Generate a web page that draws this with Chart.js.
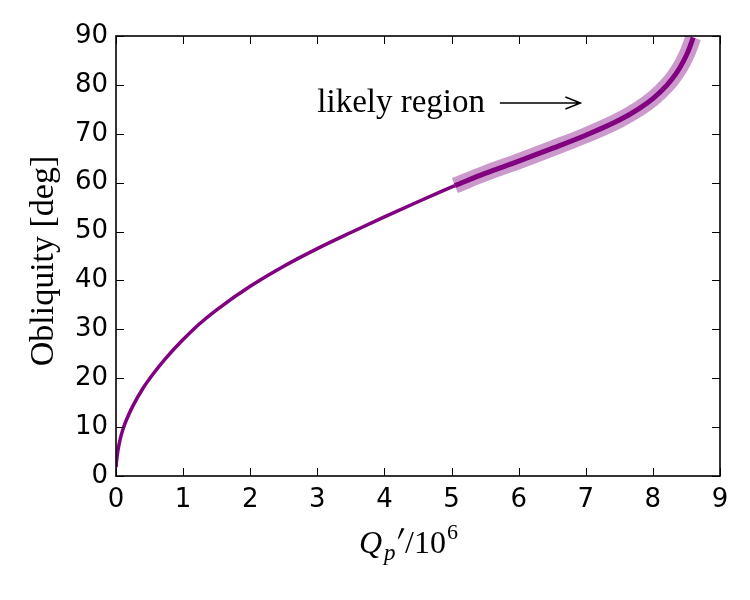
<!DOCTYPE html>
<html>
<head>
<meta charset="utf-8">
<script src="https://cdn.jsdelivr.net/npm/chart.js@4.4.0/dist/chart.umd.min.js"></script>
<style>
  html, body { margin: 0; padding: 0; background: #fff; }
  #wrap { width: 750px; height: 600px; }
</style>
</head>
<body>
<div id="wrap"><canvas id="obliquityChart"></canvas></div>
<script>
// Obliquity vs Q'_p
const curveQ = [0, 0.01, 0.03, 0.06, 0.1, 0.15, 0.25, 0.4, 0.55, 0.75, 1.0, 1.25, 1.5, 2.0, 2.5, 3.0, 3.5, 4.0, 4.5, 5.05];
const curveObl = [1.8, 3.3, 5.3, 7.4, 9.4, 11.3, 14.3, 17.9, 20.8, 24.2, 27.9, 31.2, 34.0, 38.8, 42.9, 46.5, 49.8, 53.0, 56.1, 59.4];

// the highlighted "likely region"
const likelyQ = [5.05, 5.5, 6.0, 6.5, 7.0, 7.5, 7.8, 8.0, 8.2, 8.35, 8.45, 8.52, 8.57, 8.6];
const likelyObl = [59.4, 61.9, 64.4, 67.0, 69.7, 72.8, 75.2, 77.2, 79.8, 82.4, 84.7, 86.7, 88.5, 89.7];

const xTicks = [0, 1, 2, 3, 4, 5, 6, 7, 8, 9];
const yTicks = [0, 10, 20, 30, 40, 50, 60, 70, 80, 90];

// annotation (data coords)
const noteText = "likely region";
const notePos = [3.0, 74.5];
const arrowFrom = [5.72, 76.3];
const arrowTo = [6.92, 76.3];

const PURPLE = "#800080";
const serif = "'Liberation Serif', 'DejaVu Serif', serif";

function toPoints(xs, ys) {
  return xs.map((v, i) => ({ x: v, y: ys[i] }));
}

// Frame, inward ticks, arrow and axis titles
const frameAndNotes = {
  id: "frameAndNotes",
  afterDraw(chart) {
    const { ctx, chartArea: a } = chart;
    const x = chart.scales.x;
    const y = chart.scales.y;
    ctx.save();

    // inward ticks on all four sides
    ctx.strokeStyle = "#000";
    ctx.lineWidth = 1;
    ctx.beginPath();
    xTicks.forEach((v) => {
      const px = Math.round(x.getPixelForValue(v)) + 0.5;
      ctx.moveTo(px, a.bottom);
      ctx.lineTo(px, a.bottom - 8);
      ctx.moveTo(px, a.top);
      ctx.lineTo(px, a.top + 8);
    });
    yTicks.forEach((v) => {
      const py = Math.round(y.getPixelForValue(v)) + 0.5;
      ctx.moveTo(a.left, py);
      ctx.lineTo(a.left + 8, py);
      ctx.moveTo(a.right, py);
      ctx.lineTo(a.right - 8, py);
    });
    ctx.stroke();

    ctx.lineWidth = 1.6;
    ctx.strokeRect(a.left, a.top, a.right - a.left, a.bottom - a.top);

    // annotation text + arrow
    ctx.fillStyle = "#000";
    ctx.font = "33px " + serif;
    ctx.textAlign = "left";
    ctx.textBaseline = "alphabetic";
    ctx.fillText(noteText, x.getPixelForValue(notePos[0]), y.getPixelForValue(notePos[1]));

    const ax0 = x.getPixelForValue(arrowFrom[0]);
    const ax1 = x.getPixelForValue(arrowTo[0]);
    const ay = y.getPixelForValue(arrowTo[1]);
    ctx.lineWidth = 1.5;
    ctx.beginPath();
    ctx.moveTo(ax0, ay);
    ctx.lineTo(ax1, ay);
    ctx.moveTo(ax1 - 15, ay - 6);
    ctx.lineTo(ax1, ay);
    ctx.lineTo(ax1 - 15, ay + 6);
    ctx.stroke();

    // x title: Q'_p / 10^6
    const base = 553;
    ctx.font = "italic 32px " + serif;
    ctx.fillText("Q", 359, base);
    ctx.font = "italic 23px " + serif;
    ctx.fillText("p", 384, base + 7);
    // prime as a thin slanted wedge
    ctx.beginPath();
    ctx.moveTo(401.5, 528);
    ctx.lineTo(404.5, 528.5);
    ctx.lineTo(398.8, 539);
    ctx.lineTo(397.8, 538.6);
    ctx.closePath();
    ctx.fill();
    ctx.font = "32px " + serif;
    ctx.fillText("/10", 405, base);
    const w = ctx.measureText("/10").width;
    ctx.font = "22px " + serif;
    ctx.fillText("6", 405 + w + 1, base - 14);

    // y title
    ctx.translate(53, 261);
    ctx.rotate(-Math.PI / 2);
    ctx.font = "34px " + serif;
    ctx.textAlign = "center";
    ctx.fillText("Obliquity [deg]", 0, 0);

    ctx.restore();
  },
};

const ctx = document.getElementById("obliquityChart").getContext("2d");
new Chart(ctx, {
  type: "scatter",
  data: {
    datasets: [
      {
        data: toPoints(likelyQ, likelyObl),
        showLine: true,
        borderColor: PURPLE,
        borderWidth: 5,
        pointRadius: 0,
        cubicInterpolationMode: "monotone",
      },
      {
        data: toPoints(likelyQ, likelyObl),
        showLine: true,
        borderColor: "rgba(128, 0, 128, 0.4)",
        borderWidth: 16,
        borderCapStyle: "butt",
        pointRadius: 0,
        cubicInterpolationMode: "monotone",
      },
      {
        data: toPoints(curveQ, curveObl),
        showLine: true,
        borderColor: PURPLE,
        borderWidth: 3.5,
        pointRadius: 0,
        cubicInterpolationMode: "monotone",
      },
    ],
  },
  options: {
    responsive: true,
    maintainAspectRatio: false,
    animation: false,
    layout: { padding: { left: 0, right: 30, top: 36, bottom: 0 } },
    plugins: { legend: { display: false }, tooltip: { enabled: false } },
    scales: {
      x: {
        type: "linear",
        min: 0,
        max: 9,
        grid: { display: false, drawTicks: false },
        border: { display: false },
        afterBuildTicks: (s) => { s.ticks = xTicks.map((v) => ({ value: v })); },
        afterFit: (s) => { s.height = 124; },
        ticks: {
          color: "#000",
          padding: 9,
          maxRotation: 0,
          font: { family: "'DejaVu Sans'", size: 26 },
        },
      },
      y: {
        min: 0,
        max: 90,
        grid: { display: false, drawTicks: false },
        border: { display: false },
        afterBuildTicks: (s) => { s.ticks = yTicks.map((v) => ({ value: v })); },
        afterFit: (s) => { s.width = 116; },
        ticks: {
          color: "#000",
          padding: 8,
          font: { family: "'DejaVu Sans'", size: 26 },
        },
      },
    },
  },
  plugins: [frameAndNotes],
});
</script>
</body>
</html>
